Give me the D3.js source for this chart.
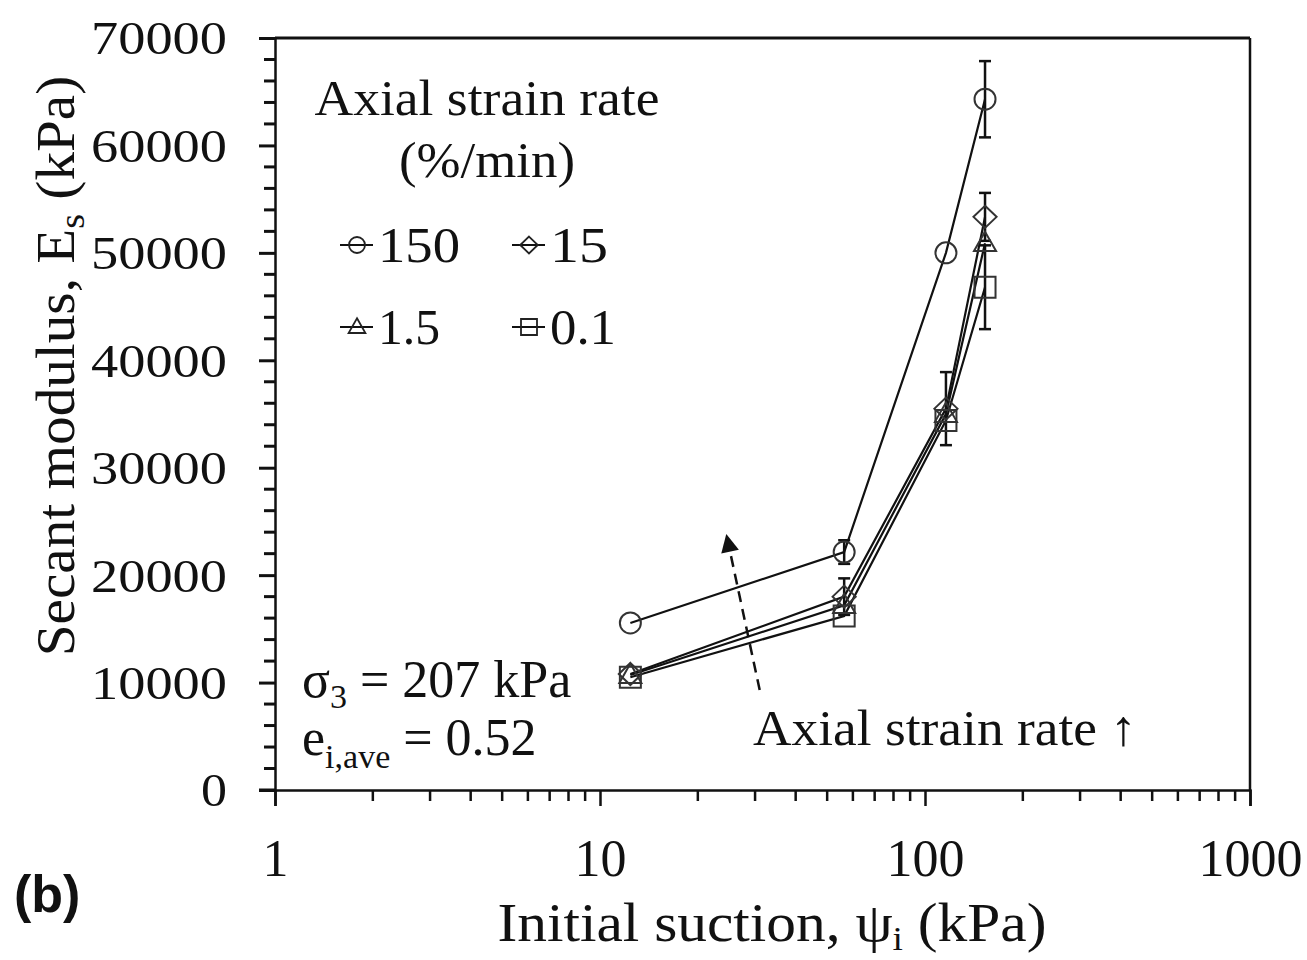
<!DOCTYPE html>
<html><head><meta charset="utf-8">
<script src="https://cdn.jsdelivr.net/npm/d3@7"></script>
<style>body{margin:0;background:#fff}svg{display:block}</style>
</head><body><svg id="c" width="1307" height="960"></svg>
<script>
const suction = [12.4, 56.4, 116, 153];
const rates = ["150", "15", "1.5", "0.1"];
const shapes = ["circle", "diamond", "triangle", "square"];
const es150 = [15550, 22150, 50000, 64300];
const es15 = [10800, 18000, 35500, 53350];
const es1_5 = [10700, 17200, 35000, 50900];
const es0_1 = [10500, 16200, 34400, 46800];
const err150 = [0, 1100, 0, 3550];
const err15 = [0, 1700, 3400, 2230];
const err1_5 = [0, 0, 0, 0];
const err0_1 = [0, 0, 0, 3900];
const yTicks = [0, 10000, 20000, 30000, 40000, 50000, 60000, 70000];
const xTicks = [1, 10, 100, 1000];

const series = [
  {name: rates[0], shape: shapes[0], v: es150, e: err150},
  {name: rates[1], shape: shapes[1], v: es15, e: err15},
  {name: rates[2], shape: shapes[2], v: es1_5, e: err1_5},
  {name: rates[3], shape: shapes[3], v: es0_1, e: err0_1}
];

const svg = d3.select("#c");
const serif = "'Liberation Serif','Times New Roman',serif";
const x = d3.scaleLog().domain([1, 1000]).range([275, 1250]);
const y = d3.scaleLinear().domain([0, 70000]).range([790, 38]);

// frame
svg.append("line").attr("x1", x(1)).attr("x2", x(1000)).attr("y1", y(70000)).attr("y2", y(70000)).attr("stroke", "#111").attr("stroke-width", 3);
svg.append("line").attr("x1", x(1000)).attr("x2", x(1000)).attr("y1", y(70000)).attr("y2", y(0)).attr("stroke", "#111").attr("stroke-width", 2.5);

// y axis
const yAxis = d3.axisLeft(y).tickValues(yTicks).tickSize(16).tickFormat(d3.format("d")).tickPadding(32);
const gy = svg.append("g").attr("transform", `translate(${x(1)},0)`).call(yAxis);
gy.select(".domain").attr("stroke", "#111").attr("stroke-width", 2.5);
gy.selectAll(".tick line").attr("stroke", "#111").attr("stroke-width", 3);
gy.selectAll(".tick text").attr("font-family", serif).attr("font-size", 47).attr("fill", "#111")
  .attr("textLength", d => d === 0 ? 26 : 136).attr("lengthAdjust", "spacingAndGlyphs").attr("dy", "0.34em");
const yMinor = d3.range(0, 70001, 2000).filter(v => v % 10000 !== 0);
svg.append("g").selectAll("line").data(yMinor).join("line")
  .attr("x1", x(1) - 11).attr("x2", x(1)).attr("y1", d => y(d)).attr("y2", d => y(d))
  .attr("stroke", "#111").attr("stroke-width", 3);

// x axis
const xAxis = d3.axisBottom(x).tickValues(xTicks).tickSize(16).tickFormat(d3.format("d")).tickPadding(33);
const gx = svg.append("g").attr("transform", `translate(0,${y(0)})`).call(xAxis);
gx.select(".domain").attr("stroke", "#111").attr("stroke-width", 2.5);
gx.selectAll(".tick line").attr("stroke", "#111").attr("stroke-width", 2.5);
gx.selectAll(".tick text").attr("font-family", serif).attr("font-size", 52).attr("fill", "#111");
const xMinor = [];
[1, 10, 100].forEach(b => { for (let k = 2; k <= 9; k++) xMinor.push(b * k); });
svg.append("g").selectAll("line").data(xMinor).join("line")
  .attr("x1", d => x(d)).attr("x2", d => x(d)).attr("y1", y(0)).attr("y2", y(0) + 11)
  .attr("stroke", "#111").attr("stroke-width", 2.5);
svg.append("line").attr("x1", x(1) - 16).attr("x2", x(1)).attr("y1", y(0)).attr("y2", y(0)).attr("stroke", "#111").attr("stroke-width", 3);

// symbols
function symbolPath(shape, s) {
  if (shape === "circle") return d3.symbol(d3.symbolCircle, Math.PI * s * s)();
  if (shape === "square") return `M${-s},${-s}H${s}V${s}H${-s}Z`;
  if (shape === "diamond") return `M0,${-s * 1.05}L${s * 1.1},0L0,${s * 1.05}L${-s * 1.1},0Z`;
  if (shape === "triangle") return `M0,${-s * 1.1}L${s * 1.05},${s * 0.75}L${-s * 1.05},${s * 0.75}Z`;
}

// lines
const line = d3.line().x(d => x(d[0])).y(d => y(d[1]));
series.forEach(s => {
  const pts = suction.map((xv, i) => [xv, s.v[i]]);
  svg.append("path").attr("d", line(pts)).attr("fill", "none").attr("stroke", "#111").attr("stroke-width", 2.2);
});
// error bars
series.forEach(s => {
  suction.forEach((xv, i) => {
    if (!s.e[i]) return;
    const g = svg.append("g").attr("stroke", "#111").attr("stroke-width", 2.5);
    g.append("line").attr("x1", x(xv)).attr("x2", x(xv)).attr("y1", y(s.v[i] - s.e[i])).attr("y2", y(s.v[i] + s.e[i]));
    [s.v[i] - s.e[i], s.v[i] + s.e[i]].forEach(v => g.append("line").attr("x1", x(xv) - 6).attr("x2", x(xv) + 6).attr("y1", y(v)).attr("y2", y(v)));
  });
});
// markers
series.forEach(s => {
  svg.append("g").selectAll("path").data(suction.map((xv, i) => [xv, s.v[i]])).join("path")
    .attr("transform", d => `translate(${x(d[0])},${y(d[1])})`)
    .attr("d", symbolPath(s.shape, 10.5)).attr("fill", "none").attr("stroke", "#333").attr("stroke-width", 2);
});

// legend
const T = (txt, px, py, size, anchor) => svg.append("text").attr("x", px).attr("y", py).attr("font-family", serif)
  .attr("font-size", size).attr("fill", "#111").attr("text-anchor", anchor || "start").text(txt);
T("Axial strain rate", 487, 115, 50, "middle").attr("textLength", 345).attr("lengthAdjust", "spacingAndGlyphs");
T("(%/min)", 487, 177, 50, "middle").attr("textLength", 176).attr("lengthAdjust", "spacingAndGlyphs");
const legPos = [[357, 245], [529, 245], [357, 327], [529, 327]];
series.forEach((s, i) => {
  const [lx, ly] = legPos[i];
  svg.append("line").attr("x1", lx - 17).attr("x2", lx + 16).attr("y1", ly).attr("y2", ly).attr("stroke", "#111").attr("stroke-width", 2);
  svg.append("path").attr("transform", `translate(${lx},${ly})`).attr("d", symbolPath(s.shape, 8)).attr("fill", "none").attr("stroke", "#222").attr("stroke-width", 1.8);
  const tl = [82, 58, 62, 66][i];
  T(s.name, lx + 21, ly + 17, 50).attr("textLength", tl).attr("lengthAdjust", "spacingAndGlyphs");
});

// annotations
const a1 = svg.append("text").attr("x", 302).attr("y", 697).attr("font-family", serif).attr("font-size", 52).attr("fill", "#111");
a1.append("tspan").text("σ");
a1.append("tspan").attr("font-size", 34).attr("dy", 11).text("3");
a1.append("tspan").attr("dy", -11).text(" = 207 kPa");
const a2 = svg.append("text").attr("x", 302).attr("y", 755).attr("font-family", serif).attr("font-size", 52).attr("fill", "#111");
a2.append("tspan").text("e");
a2.append("tspan").attr("font-size", 34).attr("dy", 13).text("i,ave");
a2.append("tspan").attr("dy", -13).text(" = 0.52");
T("Axial strain rate ↑", 753, 745, 50).attr("textLength", 384).attr("lengthAdjust", "spacingAndGlyphs");

// dashed arrow (data coordinates)
const arrowFrom = [31, 9300];
const arrowTo = [24.6, 23500];
svg.append("defs").append("marker").attr("id", "ah").attr("viewBox", "0 0 10 10").attr("refX", 8).attr("refY", 5)
  .attr("markerWidth", 22).attr("markerHeight", 18).attr("markerUnits", "userSpaceOnUse").attr("orient", "auto")
  .append("path").attr("d", "M0,0L10,5L0,10Z").attr("fill", "#111");
svg.append("line").attr("x1", x(arrowFrom[0])).attr("y1", y(arrowFrom[1])).attr("x2", x(arrowTo[0])).attr("y2", y(arrowTo[1]))
  .attr("stroke", "#111").attr("stroke-width", 2.5).attr("stroke-dasharray", "11,7").attr("marker-end", "url(#ah)");

// axis titles
const yt = svg.append("text").attr("transform", "translate(74,366) rotate(-90) scale(1.06,1)").attr("text-anchor", "middle")
  .attr("font-family", serif).attr("font-size", 54).attr("fill", "#111");
yt.append("tspan").text("Secant modulus, E");
yt.append("tspan").attr("font-size", 36).attr("dy", 10).text("s");
yt.append("tspan").attr("dy", -10).text(" (kPa)");
const xt = svg.append("text").attr("transform", "translate(772,941) scale(1.1,1)").attr("text-anchor", "middle")
  .attr("font-family", serif).attr("font-size", 54).attr("fill", "#111");
xt.append("tspan").text("Initial suction, ψ");
xt.append("tspan").attr("font-size", 34).attr("dy", 9).text("i");
xt.append("tspan").attr("dy", -9).text(" (kPa)");
svg.append("text").attr("x", 14).attr("y", 912).attr("font-family", "'Liberation Sans',Arial,sans-serif")
  .attr("font-weight", "bold").attr("font-size", 52).attr("fill", "#111").text("(b)");
</script></body></html>
